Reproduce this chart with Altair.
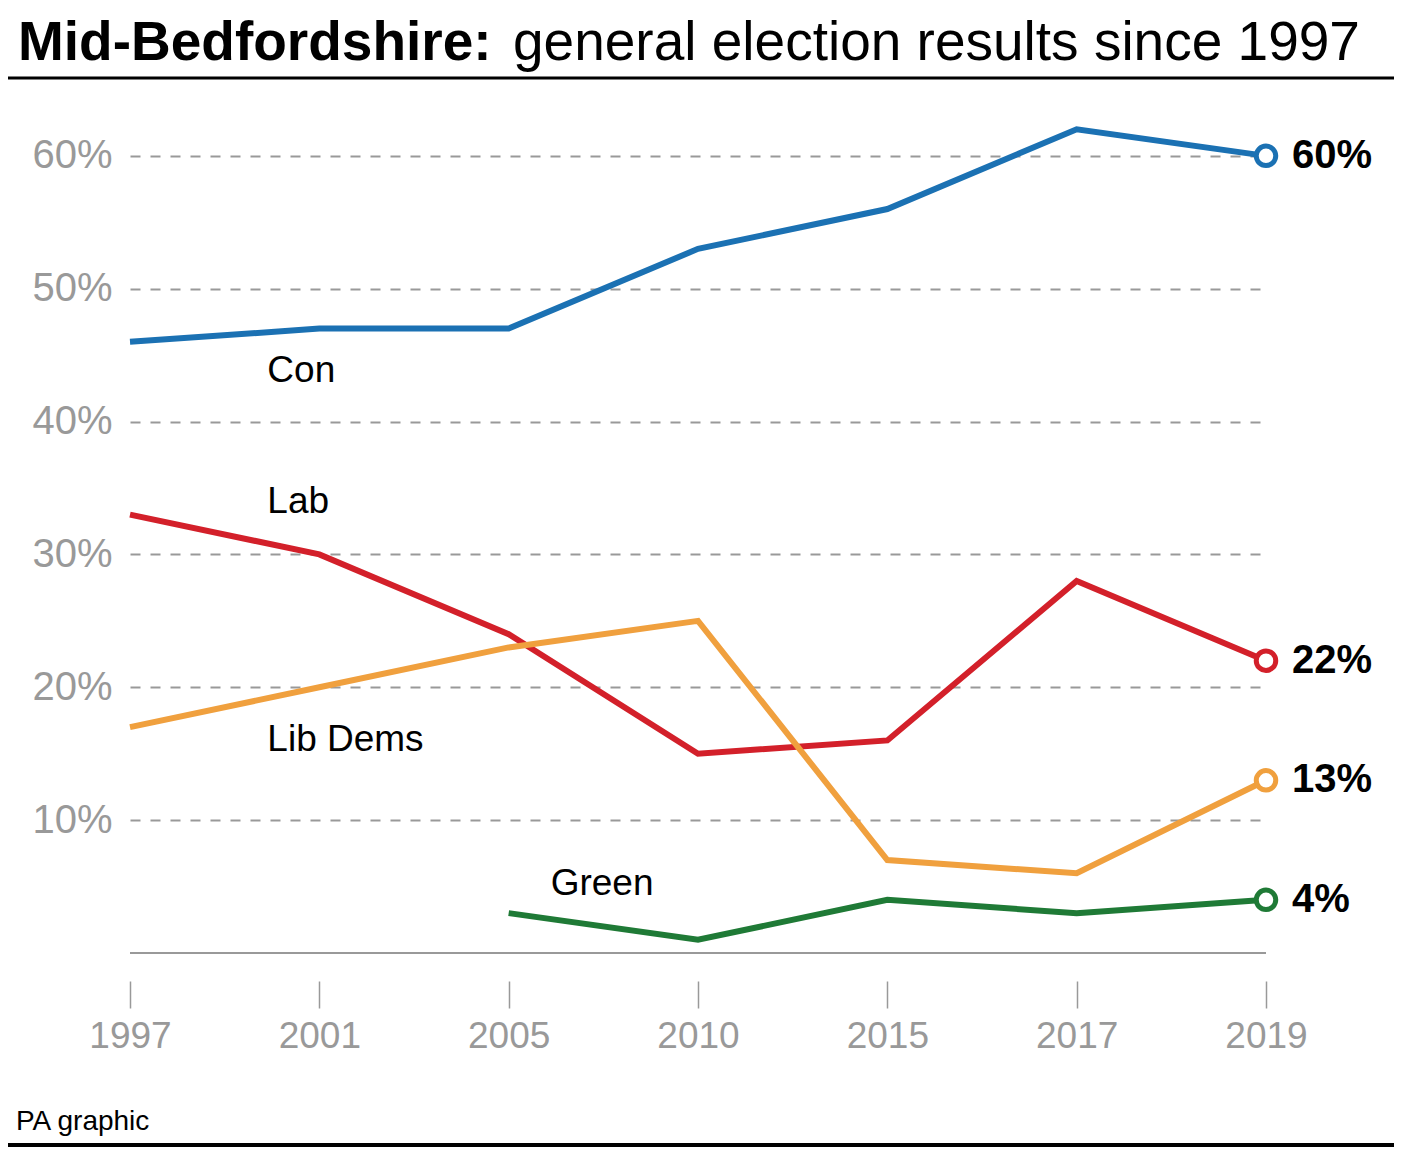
"""Mid-Bedfordshire general election results since 1997, rebuilt as an altair line chart."""

import altair as alt
import pandas as pd


FONT = "Liberation Sans"
GREY = "#999999"
LINE_WIDTH = 6
PLOT_WIDTH = 1136
PLOT_HEIGHT = 837

YEARS = ["1997", "2001", "2005", "2010", "2015", "2017", "2019"]
CON = [46, 47, 47, 53, 56, 62, 60]
LAB = [33, 30, 24, 15, 16, 28, 22]
LIB_DEMS = [17, 20, 23, 25, 7, 6, 13]
GREEN = [None, None, 3, 1, 4, 3, 4]

PARTIES = ["Green", "Lib Dems", "Lab", "Con"]
COLOURS = ["#1f7a36", "#f0a03e", "#d3202a", "#1b71b3"]
Y_TICKS = [10, 20, 30, 40, 50, 60]

TITLE_BOLD = "Mid-Bedfordshire:"
TITLE_REST = "general election results since 1997"
SOURCE = "PA graphic"


def build_results() -> pd.DataFrame:
    """Long table of vote share per party per election, skipping missing years."""
    rows = []
    for party, shares in zip(["Con", "Lab", "Lib Dems", "Green"], [CON, LAB, LIB_DEMS, GREEN]):
        for year, share in zip(YEARS, shares):
            if share is not None:
                rows.append({"party": party, "year": year, "share": share})
    return pd.DataFrame(rows)


results = build_results()

x_enc = alt.X(
    "year:O",
    scale=alt.Scale(type="point", padding=0, domain=YEARS),
    axis=alt.Axis(
        title=None, domain=False, grid=False, labelAngle=0,
        offset=28, tickSize=27, tickColor=GREY, tickWidth=1.5,
        labelFont=FONT, labelFontSize=37, labelColor=GREY, labelPadding=10,
    ),
)
y_enc = alt.Y(
    "share:Q",
    scale=alt.Scale(domain=[0, 63], nice=False, zero=True),
    axis=alt.Axis(
        title=None, values=Y_TICKS, labelExpr="datum.value + '%'",
        ticks=False, domain=False, grid=True,
        gridDash=[10, 10], gridColor=GREY, gridWidth=1.8,
        labelFont=FONT, labelFontSize=40, labelColor=GREY, labelPadding=18,
    ),
)
colour = alt.Color("party:N", scale=alt.Scale(domain=PARTIES, range=COLOURS), legend=None)

base = alt.Chart(results)

baseline = alt.Chart(pd.DataFrame({"zero": [0]})).mark_rule(
    color=GREY, strokeWidth=2
).encode(y=alt.datum(0))

lines = base.mark_line(strokeWidth=LINE_WIDTH).encode(
    x=x_enc, y=y_enc, color=colour,
    order=alt.Order("year:O"),
    detail="party:N",
)

end_points = base.transform_filter("datum.year == '2019'").mark_point(
    filled=False, fill="white", fillOpacity=1, opacity=1, size=380, strokeWidth=5
).encode(x=x_enc, y=y_enc, color=colour)

end_labels = base.transform_filter("datum.year == '2019'").transform_calculate(
    label="datum.share + '%'"
).mark_text(
    align="left", baseline="middle", dx=26, font=FONT, fontSize=40,
    fontWeight="bold", color="black",
).encode(x=x_enc, y=y_enc, text="label:N")


def series_label(party: str, year: str, dx: int, dy: int) -> alt.Chart:
    """Party name placed next to its own line, offset from one of its points."""
    return base.transform_filter(
        f"datum.party == '{party}' && datum.year == '{year}'"
    ).mark_text(
        align="left", baseline="middle", dx=dx, dy=dy,
        font=FONT, fontSize=37, color="black",
    ).encode(x=x_enc, y=y_enc, text="party:N")


def page_text(text: str, x: int, y: int, size: int, weight: str = "normal") -> alt.Chart:
    """Heading and footer text sitting outside the plot area."""
    return alt.Chart(pd.DataFrame({"t": [text]})).mark_text(
        align="left", baseline="alphabetic", font=FONT, fontSize=size,
        fontWeight=weight, color="black",
    ).encode(x=alt.value(x), y=alt.value(y), text="t:N")


def page_rule(y: int, width: float) -> alt.Chart:
    """Full-width black rule above and below the graphic."""
    return alt.Chart(pd.DataFrame({"r": [0]})).mark_rule(
        color="black", strokeWidth=width
    ).encode(x=alt.value(-122), x2=alt.value(PLOT_WIDTH + 128), y=alt.value(y))


chart = alt.layer(
    baseline,
    lines,
    end_points,
    end_labels,
    series_label("Con", "2001", -52, 42),
    series_label("Lab", "2001", -52, -52),
    series_label("Lib Dems", "2001", -52, 53),
    series_label("Green", "2005", 42, -29),
    page_text(TITLE_BOLD, -112, -56, 55, "bold"),
    page_text(TITLE_REST, 383, -56, 55),
    page_rule(-38, 3),
    page_text(SOURCE, -114, 1014, 28),
    page_rule(1029, 4),
).properties(
    width=PLOT_WIDTH,
    height=PLOT_HEIGHT,
    padding={"left": 122, "top": 108, "right": 128, "bottom": 196},
    autosize=alt.AutoSizeParams(type="none"),
    background="white",
).configure(
    font=FONT,
).configure_view(
    strokeWidth=0,
)

chart.save("out.html", embed_options={"renderer": "svg", "actions": False})
